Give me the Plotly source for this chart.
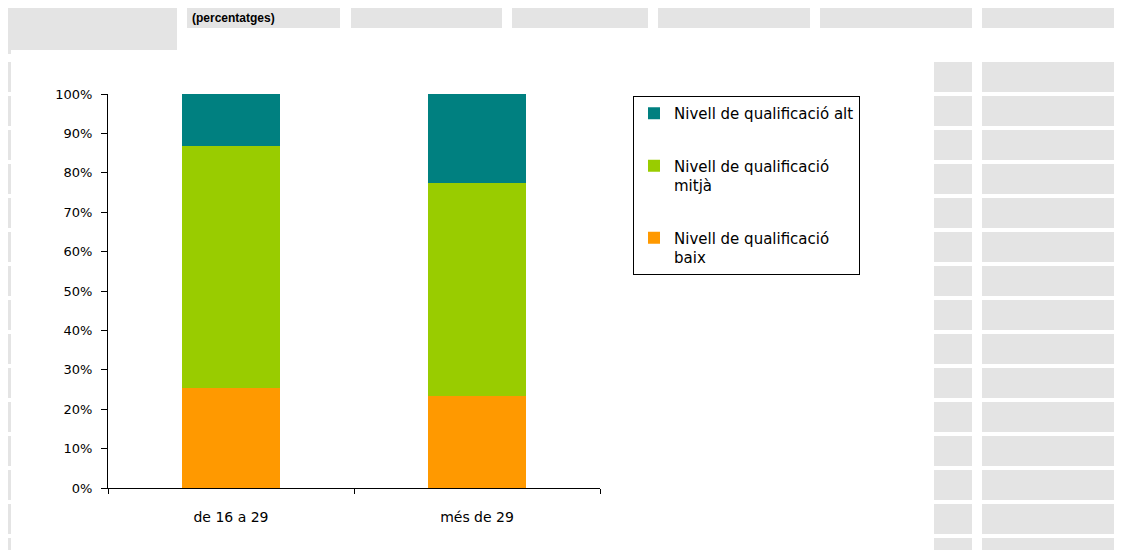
import plotly.graph_objects as go

# data (percent of each age group)
age_groups = ["de 16 a 29", "més de 29"]
baix = [25.5, 23.4]
mitja = [61.4, 54.0]
alt = [13.1, 22.6]

series_names = [
    "Nivell de qualificació<br>baix",
    "Nivell de qualificació<br>mitjà",
    "Nivell de qualificació alt",
]
series_colors = ["#FF9900", "#99CC00", "#008080"]
legend_ranks = [3, 2, 1]

y_ticks = list(range(0, 101, 10))
y_tick_text = [f"{v}%" for v in y_ticks]

# page geometry in screenshot pixels; the page body adds an 8px margin
OFF = 8
W, H = 1122 - OFF, 550 - OFF
PL, PR, PT, PB = 108, 600, 94, 488
CELL = "#E4E4E4"
FONT = "DejaVu Sans"


def px_x(x):
    return (x - PL) / (PR - PL)


def px_y(y):
    return (PB - y) / (PB - PT)


def cell(x0, y0, x1, y1):
    return dict(
        type="rect", xref="paper", yref="paper",
        x0=px_x(x0), x1=px_x(x1), y0=px_y(y1), y1=px_y(y0),
        fillcolor=CELL, line=dict(width=0), layer="below",
    )


fig = go.Figure()

for name, vals, color, rank in zip(series_names, [baix, mitja, alt],
                                   series_colors, legend_ranks):
    fig.add_trace(go.Bar(
        x=age_groups,
        y=vals,
        name=name,
        legendgroup=name,
        legendrank=rank,
        marker=dict(color=color, line=dict(width=0)),
    ))

# spreadsheet cells showing around the chart object
shapes = [
    cell(5, 5, 177, 50),
    cell(5, 50, 11, 54),
    cell(187, 8, 340, 28),
]
for x0, x1 in [(351, 502), (512, 648), (658, 810), (820, 972), (982, 1122)]:
    shapes.append(cell(x0, 0, x1, 28))
row = 62
while row < 550:
    bottom = min(row + 30, 550)
    shapes.append(cell(5, row, 11, bottom))
    shapes.append(cell(934, row, 972, bottom))
    shapes.append(cell(982, row, 1122, bottom))
    row += 34

fig.update_layout(
    width=W,
    height=H,
    margin=dict(l=PL - OFF, r=1122 - PR, t=PT - OFF, b=550 - PB, pad=0),
    barmode="stack",
    bargap=0.6,
    plot_bgcolor="white",
    paper_bgcolor="white",
    font=dict(family=FONT, size=13, color="black"),
    shapes=shapes,
    showlegend=True,
    legend=dict(
        x=px_x(633), y=px_y(96),
        xanchor="left", yanchor="top",
        bgcolor="white",
        bordercolor="black",
        borderwidth=1,
        traceorder="grouped",
        tracegroupgap=30,
        valign="top",
        font=dict(family=FONT, size=15, color="black"),
        itemwidth=30,
    ),
    annotations=[dict(
        text="<b>(percentatges)</b>",
        xref="paper", yref="paper",
        x=px_x(190), y=px_y(18),
        xanchor="left", yanchor="middle",
        showarrow=False,
        font=dict(family="Liberation Sans", size=12, color="black"),
    )],
)

fig.update_xaxes(
    showline=True, linecolor="black", linewidth=1,
    ticks="outside", tickson="boundaries", ticklen=5, tickcolor="black",
    ticklabelstandoff=16,
    tickfont=dict(size=14),
    showgrid=False,
)
fig.update_yaxes(
    range=[0, 100],
    tickvals=y_ticks,
    ticktext=y_tick_text,
    showline=True, linecolor="black", linewidth=1,
    ticks="outside", ticklen=6, tickcolor="black",
    ticklabelstandoff=6,
    showgrid=False, zeroline=False,
)

fig.write_html("out.html")
